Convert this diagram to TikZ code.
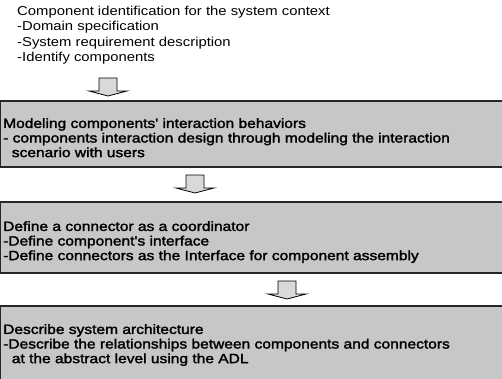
\documentclass[tikz,border=0pt]{standalone}
\usepackage{fontspec}
\setmainfont{Liberation Sans}[FakeStretch=1.15]
\newfontfamily\stepfont{Liberation Sans}[FakeStretch=1.16,FakeBold=2]
\begin{document}
\begin{tikzpicture}[x=1pt,y=-1pt,
  plain/.style={anchor=north west,inner sep=0pt,align=left,
    font=\fontsize{12.9}{15.4}\selectfont},
  steptext/.style={anchor=north west,inner sep=0pt,align=left,
    font=\stepfont\fontsize{13.4}{14.6}\selectfont},
  stepfill/.style={fill=black!22},
  stepedge/.style={draw=black!85,line width=1.2pt},
  arrowline/.style={draw=black,line width=0.8pt,fill=black!15,line join=miter},
  blockarrow/.pic={\draw[arrowline] (-9,0) -- (-9,13) -- (-19,13) -- (0,18)
    -- (19,13) -- (9,13) -- (9,0) -- cycle;}
]
\useasboundingbox[fill=white] (0,0) rectangle (502,378);

% starting point of the process
\node[plain] (ctx) at (17,6) {Component identification for the system context\\
-Domain specification\\
-System requirement description\\
-Identify components};

% step boxes: shaded band, edges on top, left and bottom
\fill[stepfill] (0.6,101) rectangle (505,167);
\draw[stepedge] (505,101) -- (0.6,101) -- (0.6,167) -- (505,167);
\node[steptext] (s1) at (3,118) {Modeling components' interaction behaviors\\
- components\ interaction design through modeling the interaction\\
\ \ scenario with users};

\fill[stepfill] (0.6,202) rectangle (505,273);
\draw[stepedge] (505,202) -- (0.6,202) -- (0.6,273) -- (505,273);
\node[steptext] (s2) at (3,221) {Define a connector as a coordinator\\
-Define component's interface\\
-Define connectors as the Interface for component assembly};

\fill[stepfill] (0.6,306) rectangle (505,382);
\draw[stepedge] (505,306) -- (0.6,306) -- (0.6,382);
\node[steptext] (s3) at (3,324) {Describe system architecture\\
-Describe the relationships between components and connectors\\
\ \ at the abstract level using the ADL};

% block arrows between the steps
\coordinate (a1) at (108,78);
\coordinate (a2) at (195,175);
\coordinate (a3) at (287,281);
\pic at (a1) {blockarrow};
\pic at (a2) {blockarrow};
\pic at (a3) {blockarrow};
\end{tikzpicture}
\end{document}
